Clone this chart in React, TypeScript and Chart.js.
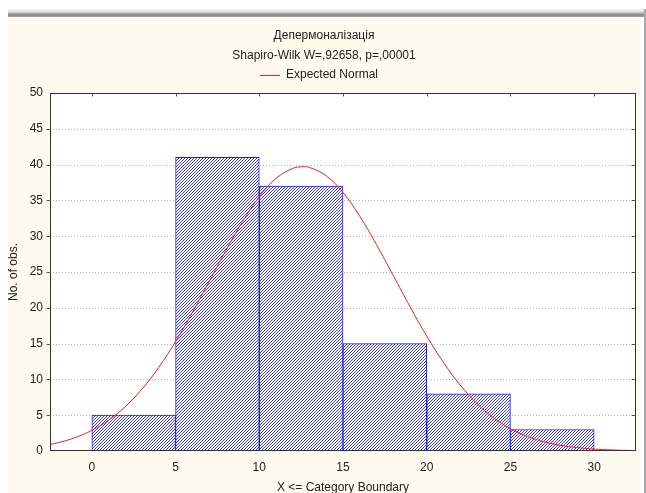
import React, { useEffect, useRef } from "react";
import { Chart, registerables } from "chart.js";
Chart.register(...registerables);

const binCenters = [2.5, 7.5, 12.5, 17.5, 22.5, 27.5];
const binCounts = [5, 41, 37, 15, 8, 3];
const curveX = [-2.5, -2, -1, 0, 1, 2, 3, 4, 5, 6, 7, 8, 9, 10, 11, 12, 12.6, 13, 14, 15, 16, 17, 18, 19, 20, 21, 22, 23, 24, 25, 26, 27, 28, 29, 30, 31, 32, 32.5];
const curveY = [0.92, 1.17, 1.87, 2.88, 4.3, 6.2, 8.66, 11.69, 15.28, 19.33, 23.64, 27.98, 32.05, 35.5, 38.06, 39.47, 39.7, 39.6, 38.43, 36.1, 32.8, 28.83, 24.52, 20.17, 16.06, 12.37, 9.21, 6.64, 4.63, 3.13, 2.04, 1.29, 0.79, 0.47, 0.27, 0.15, 0.08, 0.06];
const xTicks = [0, 5, 10, 15, 20, 25, 30];
const yTicks = [0, 5, 10, 15, 20, 25, 30, 35, 40, 45, 50];
const titleText = "Депермоналізація";
const subtitleText = "Shapiro-Wilk W=,92658, p=,00001";
const legendText = "Expected Normal";
const xTitle = "X <= Category Boundary";
const yTitle = "No. of obs.";

const FONT = '"Liberation Sans", Arial, sans-serif';
const TEXT = "#222222";

function makePattern(): CanvasPattern | string {
  const c = document.createElement("canvas");
  c.width = 3;
  c.height = 3;
  const g = c.getContext("2d");
  if (!g) return "#aab";
  g.fillStyle = "#ffffff";
  g.fillRect(0, 0, 3, 3);
  g.fillStyle = "#3a3aff";
  g.fillRect(0, 2, 1, 1);
  g.fillRect(1, 1, 1, 1);
  g.fillRect(2, 0, 1, 1);
  const p = g.createPattern(c, "repeat");
  return p || "#aab";
}

const decorPlugin = {
  id: "decor",
  beforeDraw(chart: any) {
    const { ctx, chartArea: a, width, height } = chart;
    ctx.save();
    ctx.fillStyle = "#fffaee";
    ctx.fillRect(0, 0, width, height);
    ctx.fillStyle = "#ffffff";
    ctx.fillRect(a.left, a.top, a.right - a.left, a.bottom - a.top);
    ctx.restore();
  },
  beforeDatasetsDraw(chart: any) {
    const { ctx, chartArea: a, scales } = chart;
    ctx.save();
    ctx.strokeStyle = "#b4b4b4";
    ctx.lineWidth = 1;
    ctx.setLineDash([1, 2]);
    yTicks.forEach((v) => {
      if (v === 0 || v === 50) return;
      const y = Math.round(scales.y.getPixelForValue(v)) + 0.5;
      ctx.beginPath();
      ctx.moveTo(a.left, y);
      ctx.lineTo(a.right, y);
      ctx.stroke();
    });
    ctx.restore();
  },
  afterDatasetsDraw(chart: any) {
    const { ctx, chartArea: a, scales } = chart;
    ctx.save();
    const L = Math.round(a.left) + 0.5;
    const R = Math.round(a.right) - 0.5;
    const T = Math.round(a.top) + 0.5;
    const B = Math.round(a.bottom) - 0.5;
    ctx.strokeStyle = "#333333";
    ctx.lineWidth = 1;
    ctx.strokeRect(L, T, R - L, B - T);
    ctx.strokeStyle = "#555555";
    xTicks.forEach((v) => {
      const x = Math.round(scales.x.getPixelForValue(v)) + 0.5;
      ctx.beginPath();
      ctx.moveTo(x, T);
      ctx.lineTo(x, T + 3);
      ctx.stroke();
    });
    yTicks.forEach((v) => {
      if (v === 0 || v === 50) return;
      const y = Math.round(scales.y.getPixelForValue(v)) + 0.5;
      ctx.beginPath();
      ctx.moveTo(R, y);
      ctx.lineTo(R - 4, y);
      ctx.stroke();
      ctx.beginPath();
      ctx.moveTo(L, y);
      ctx.lineTo(L - 4, y);
      ctx.stroke();
    });
    ctx.restore();
  },
  afterDraw(chart: any) {
    const { ctx, chartArea: a, width } = chart;
    ctx.save();
    ctx.fillStyle = TEXT;
    ctx.font = `12px ${FONT}`;
    ctx.textBaseline = "middle";
    ctx.textAlign = "center";
    ctx.fillText(titleText, width / 2, 19);
    ctx.fillText(subtitleText, width / 2, 39);
    ctx.strokeStyle = "#ff2020";
    ctx.lineWidth = 1;
    ctx.beginPath();
    ctx.moveTo(252, 58.5);
    ctx.lineTo(272, 58.5);
    ctx.stroke();
    ctx.textAlign = "left";
    ctx.fillText(legendText, 278, 58);
    ctx.textAlign = "center";
    ctx.fillText(xTitle, (a.left + a.right) / 2, 471);
    ctx.translate(6, (a.top + a.bottom) / 2);
    ctx.rotate(-Math.PI / 2);
    ctx.fillText(yTitle, 0, 0);
    ctx.restore();
  },
};

export default function App() {
  const ref = useRef<HTMLCanvasElement | null>(null);
  useEffect(() => {
    if (!ref.current) return;
    const pattern = makePattern();
    const chart = new Chart(ref.current, {
      type: "bar",
      data: {
        datasets: [
          {
            type: "line",
            label: legendText,
            data: curveX.map((x, i) => ({ x, y: curveY[i] })),
            borderColor: "#ff1a1a",
            borderWidth: 1,
            pointRadius: 0,
            tension: 0.4,
            fill: false,
            order: 0,
          } as any,
          {
            type: "bar",
            label: "obs",
            data: binCenters.map((x, i) => ({ x, y: binCounts[i] })),
            backgroundColor: pattern as any,
            borderColor: "#1a1aff",
            borderWidth: 1,
            borderSkipped: false,
            barPercentage: 1,
            categoryPercentage: 1,
            grouped: false,
            order: 1,
          } as any,
        ],
      },
      options: {
        responsive: false,
        animation: false,
        devicePixelRatio: 1,
        layout: { padding: { top: 76, right: 4, left: 0, bottom: 0 } },
        plugins: { legend: { display: false }, title: { display: false }, tooltip: { enabled: false } },
        scales: {
          x: {
            type: "linear",
            min: -2.5,
            max: 32.5,
            offset: false,
            afterBuildTicks: (s: any) => {
              s.ticks = xTicks.map((v) => ({ value: v }));
            },
            afterFit: (s: any) => {
              s.height = 42;
            },
            grid: { display: false, drawTicks: false },
            border: { display: false },
            ticks: { font: { family: FONT, size: 12 }, color: TEXT, padding: 9, maxRotation: 0, autoSkip: false },
          },
          y: {
            type: "linear",
            min: 0,
            max: 50,
            afterBuildTicks: (s: any) => {
              s.ticks = yTicks.map((v) => ({ value: v }));
            },
            afterFit: (s: any) => {
              s.width = 42;
            },
            grid: { display: false, drawTicks: false },
            border: { display: false },
            ticks: { font: { family: FONT, size: 12 }, color: TEXT, padding: 7, autoSkip: false },
          },
        },
      } as any,
      plugins: [decorPlugin],
    });
    return () => chart.destroy();
  }, []);

  return (
    <div style={{ position: "fixed", left: 0, top: 0, width: 646, height: 493, background: "#ffffff", overflow: "hidden" }}>
      <div
        style={{
          position: "absolute",
          left: 8,
          top: 9,
          width: 638,
          height: 8,
          background: "linear-gradient(#f4f4f4, #dddddd 35%, #8a8a8a 70%, #a0a0a0)",
        }}
      />
      <div style={{ position: "absolute", left: 644, top: 9, width: 2, height: 484, background: "#a8a8a8" }} />
      <canvas ref={ref} width={632} height={476} style={{ position: "absolute", left: 8, top: 17, display: "block" }} />
    </div>
  );
}
